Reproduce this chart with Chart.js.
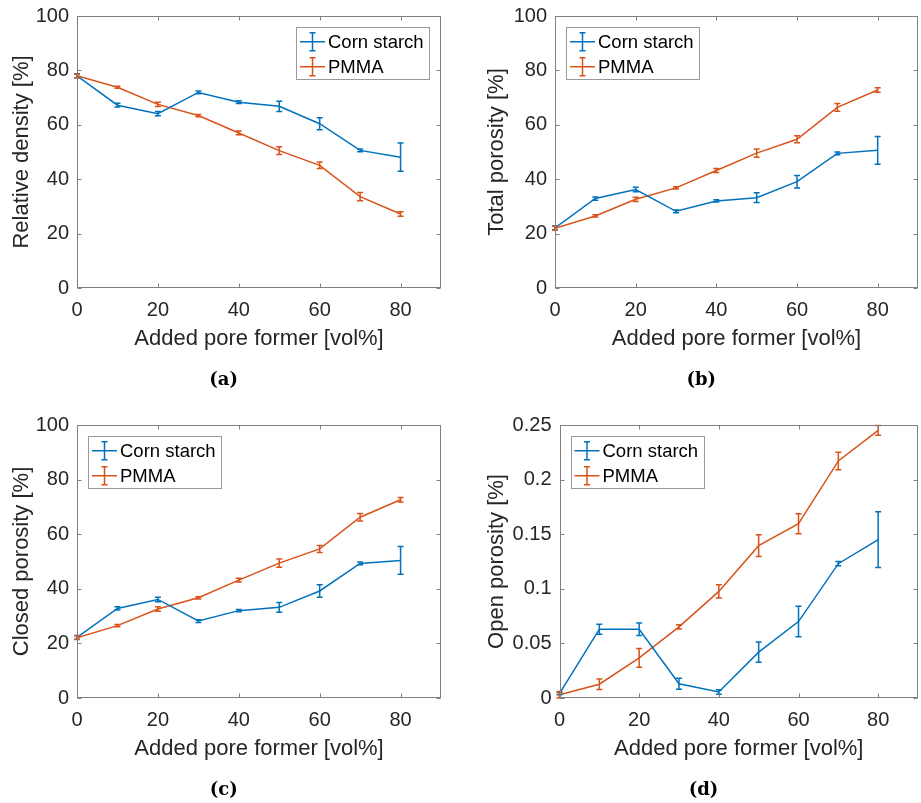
<!DOCTYPE html>
<html><head><meta charset="utf-8">
<script src="https://cdn.jsdelivr.net/npm/chart.js@4.4.1/dist/chart.umd.min.js"></script>
<style>
html,body{margin:0;padding:0;background:#fff;width:921px;height:803px;overflow:hidden}
canvas{position:absolute}
</style></head><body>
<canvas id="ca" width="460" height="400" style="left:0px;top:0px"></canvas>
<canvas id="cb" width="461" height="400" style="left:460px;top:0px"></canvas>
<canvas id="cc" width="460" height="403" style="left:0px;top:400px"></canvas>
<canvas id="cd" width="461" height="403" style="left:460px;top:400px"></canvas>
<script>
// ---------- data ----------
const addedPoreFormer = [0, 10, 20, 30, 40, 50, 60, 70, 80];
const seriesNames = ['Corn starch', 'PMMA'];

const cornDensity    = [78.0, 67.2, 64.1, 71.9, 68.3, 66.8, 60.4, 50.6, 48.1];
const cornDensityErr = [0.7, 0.7, 0.8, 0.5, 0.5, 1.9, 2.2, 0.5, 5.2];
const pmmaDensity    = [78.0, 73.8, 67.5, 63.4, 57.0, 50.5, 45.1, 33.6, 27.2];
const pmmaDensityErr = [0.7, 0.4, 0.8, 0.4, 0.7, 1.4, 1.2, 1.5, 0.8];

const cornTotal    = [22.1, 32.9, 36.2, 28.2, 32.0, 33.2, 39.1, 49.5, 50.6];
const cornTotalErr = [0.7, 0.6, 0.8, 0.5, 0.4, 1.8, 2.3, 0.5, 5.1];
const pmmaTotal    = [22.0, 26.5, 32.6, 36.8, 43.2, 49.6, 54.7, 66.4, 72.8];
const pmmaTotalErr = [0.7, 0.4, 0.8, 0.4, 0.7, 1.5, 1.3, 1.4, 0.8];

const cornClosed    = [22.2, 32.8, 36.1, 28.2, 32.0, 33.2, 39.2, 49.3, 50.4];
const cornClosedErr = [0.7, 0.6, 0.8, 0.5, 0.4, 1.8, 2.3, 0.5, 5.1];
const pmmaClosed    = [22.1, 26.5, 32.6, 36.7, 43.2, 49.4, 54.6, 66.2, 72.6];
const pmmaClosedErr = [0.7, 0.4, 0.8, 0.4, 0.7, 1.5, 1.3, 1.4, 0.8];

const cornOpen    = [0.004, 0.063, 0.063, 0.013, 0.0055, 0.042, 0.070, 0.123, 0.145];
const cornOpenErr = [0.001, 0.0046, 0.0057, 0.005, 0.002, 0.0093, 0.014, 0.002, 0.0255];
const pmmaOpen    = [0.003, 0.0126, 0.0367, 0.0651, 0.0976, 0.1395, 0.1596, 0.2171, 0.245];
const pmmaOpenErr = [0.003, 0.0048, 0.0086, 0.002, 0.0061, 0.010, 0.0092, 0.008, 0.0045];

const percentTickLabels = ['0', '20', '40', '60', '80', '100'];
const openTickLabels = ['0', '0.05', '0.1', '0.15', '0.2', '0.25'];
const xTickLabels = ['0', '20', '40', '60', '80'];
const xTitle = 'Added pore former [vol%]';
const yTitles = ['Relative density [%]', 'Total porosity [%]', 'Closed porosity [%]', 'Open porosity [%]'];
const panelLabels = ['(a)', '(b)', '(c)', '(d)'];

// ---------- style ----------
const BLUE = '#0072BD', ORANGE = '#D95319';
const AXIS = '#262626', BOX = '#808080';
const SANS = '"Liberation Sans", Arial, Helvetica, sans-serif';

const errorBarPlugin = {
  id: 'errorBars',
  afterDatasetsDraw(chart) {
    const ctx = chart.ctx, xs = chart.scales.x, ys = chart.scales.y;
    chart.data.datasets.forEach(ds => {
      ctx.save();
      ctx.strokeStyle = ds.borderColor;
      ctx.lineWidth = 1.5;
      ds.data.forEach((p, i) => {
        const e = ds.errors[i];
        const x = xs.getPixelForValue(p.x);
        const y1 = ys.getPixelForValue(p.y - e), y2 = ys.getPixelForValue(p.y + e);
        ctx.beginPath();
        ctx.moveTo(x, y1); ctx.lineTo(x, y2);
        ctx.moveTo(x - 3, y1); ctx.lineTo(x + 3, y1);
        ctx.moveTo(x - 3, y2); ctx.lineTo(x + 3, y2);
        ctx.stroke();
      });
      ctx.restore();
    });
  }
};

const framePlugin = {
  id: 'frame',
  afterDraw(chart, args, opts) {
    const ctx = chart.ctx, a = chart.chartArea, xs = chart.scales.x, ys = chart.scales.y;
    ctx.save();
    ctx.strokeStyle = BOX; ctx.lineWidth = 1;
    const L = Math.round(a.left) + 0.5, R = Math.round(a.right) - 0.5;
    const T = Math.round(a.top) + 0.5, B = Math.round(a.bottom) - 0.5;
    ctx.strokeRect(L, T, R - L, B - T);
    ctx.beginPath();
    xs.ticks.forEach(t => {
      const x = Math.round(xs.getPixelForValue(t.value)) + 0.5;
      ctx.moveTo(x, B); ctx.lineTo(x, B - 4);
      ctx.moveTo(x, T); ctx.lineTo(x, T + 4);
    });
    ys.ticks.forEach(t => {
      const y = Math.round(ys.getPixelForValue(t.value)) + 0.5;
      ctx.moveTo(L, y); ctx.lineTo(L + 4, y);
      ctx.moveTo(R, y); ctx.lineTo(R - 4, y);
    });
    ctx.stroke();
    // legend
    const w = 133, h = 52;
    const lx = opts.legendRight ? a.right - 12 - w : a.left + 11;
    const ly = a.top + 11;
    ctx.fillStyle = '#fff';
    ctx.fillRect(lx, ly, w, h);
    ctx.strokeStyle = '#9a9a9a';
    ctx.strokeRect(Math.round(lx) + 0.5, Math.round(ly) + 0.5, w, h);
    chart.data.datasets.forEach((ds, i) => {
      const cy = ly + 14.7 + i * 25;
      ctx.strokeStyle = ds.borderColor; ctx.lineWidth = 1.5;
      ctx.beginPath();
      ctx.moveTo(lx + 4, cy); ctx.lineTo(lx + 29, cy);
      const bx = lx + 16.5;
      ctx.moveTo(bx, cy - 9); ctx.lineTo(bx, cy + 9);
      ctx.moveTo(bx - 3, cy - 9); ctx.lineTo(bx + 3, cy - 9);
      ctx.moveTo(bx - 3, cy + 9); ctx.lineTo(bx + 3, cy + 9);
      ctx.stroke();
      ctx.fillStyle = '#000';
      ctx.font = '18.5px ' + SANS;
      ctx.textAlign = 'left'; ctx.textBaseline = 'middle';
      ctx.fillText(ds.label, lx + 32, cy + 1);
    });
    // panel label
    ctx.fillStyle = '#000';
    ctx.font = 'bold 18px "DejaVu Serif", serif';
    ctx.textAlign = 'center'; ctx.textBaseline = 'middle';
    ctx.fillText(opts.panelLabel, (a.left + a.right) / 2 - 35.3, a.bottom + 92);
    ctx.restore();
  }
};

function makePanel(id, p) {
  const pts = arr => addedPoreFormer.map((x, i) => ({ x: x, y: arr[i] }));
  new Chart(document.getElementById(id), {
    type: 'line',
    data: {
      datasets: [
        { label: seriesNames[0], data: pts(p.corn), errors: p.cornErr, borderColor: BLUE, backgroundColor: BLUE, borderWidth: 1.5, pointRadius: 0, tension: 0, fill: false },
        { label: seriesNames[1], data: pts(p.pmma), errors: p.pmmaErr, borderColor: ORANGE, backgroundColor: ORANGE, borderWidth: 1.5, pointRadius: 0, tension: 0, fill: false }
      ]
    },
    options: {
      responsive: false, animation: false, devicePixelRatio: 1,
      layout: { padding: p.pad },
      plugins: {
        legend: { display: false }, tooltip: { enabled: false },
        frame: { legendRight: p.legendRight, panelLabel: p.label }
      },
      scales: {
        x: {
          type: 'linear', min: 0, max: 90,
          grid: { display: false, drawTicks: false },
          border: { display: false },
          ticks: { stepSize: 20, includeBounds: false, padding: 10, color: AXIS, font: { family: SANS, size: 20 },
                   maxRotation: 0, autoSkip: false,
                   callback: (v, i) => xTickLabels[i] },
          title: { display: true, text: xTitle, color: AXIS, font: { family: SANS, size: 22 }, padding: { top: 0, bottom: 0 } },
          afterFit: s => { s.height = 64; }
        },
        y: {
          min: 0, max: p.yMax,
          grid: { display: true, drawOnChartArea: false, drawTicks: true, tickLength: 8, color: 'rgba(0,0,0,0)', tickColor: 'rgba(0,0,0,0)' },
          border: { display: false },
          ticks: { stepSize: p.yStep, padding: 0, color: AXIS, font: { family: SANS, size: 20 }, autoSkip: false,
                   callback: (v, i) => p.yTickLabels[i] },
          title: { display: true, text: p.yTitle, color: AXIS, font: { family: SANS, size: 22 }, padding: { top: p.yTitlePad, bottom: 0 } },
          afterFit: s => { s.width = p.yAxisWidth; }
        }
      }
    },
    plugins: [errorBarPlugin, framePlugin]
  });
}

makePanel('ca', { corn: cornDensity, cornErr: cornDensityErr, pmma: pmmaDensity, pmmaErr: pmmaDensityErr,
  yMax: 100, yStep: 20, yTickLabels: percentTickLabels, yTitle: yTitles[0], label: panelLabels[0], legendRight: true,
  yAxisWidth: 77, yTitlePad: 8.8, pad: { left: 0, right: 19, top: 16, bottom: 48 } });
makePanel('cb', { corn: cornTotal, cornErr: cornTotalErr, pmma: pmmaTotal, pmmaErr: pmmaTotalErr,
  yMax: 100, yStep: 20, yTickLabels: percentTickLabels, yTitle: yTitles[1], label: panelLabels[1], legendRight: false,
  yAxisWidth: 95, yTitlePad: 23.5, pad: { left: 0, right: 3, top: 16, bottom: 48 } });
makePanel('cc', { corn: cornClosed, cornErr: cornClosedErr, pmma: pmmaClosed, pmmaErr: pmmaClosedErr,
  yMax: 100, yStep: 20, yTickLabels: percentTickLabels, yTitle: yTitles[2], label: panelLabels[2], legendRight: false,
  yAxisWidth: 77, yTitlePad: 8.8, pad: { left: 0, right: 19, top: 25, bottom: 41 } });
makePanel('cd', { corn: cornOpen, cornErr: cornOpenErr, pmma: pmmaOpen, pmmaErr: pmmaOpenErr,
  yMax: 0.25, yStep: 0.05, yTickLabels: openTickLabels, yTitle: yTitles[3], label: panelLabels[3], legendRight: false,
  yAxisWidth: 99.5, yTitlePad: 23.5, pad: { left: 0, right: 3, top: 25, bottom: 41 } });
</script>
</body></html>
